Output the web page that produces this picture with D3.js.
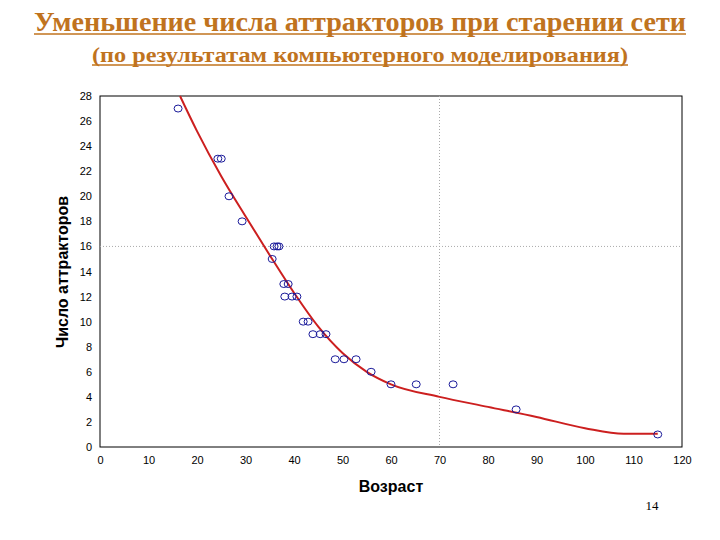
<!DOCTYPE html><html><head><meta charset="utf-8"><script src="https://cdn.jsdelivr.net/npm/d3@7"></script>
<style>body{margin:0;background:#fff}</style></head><body><script>
const xData=[16.1,24.3,25,26.6,29.3,35.9,36.5,36.9,35.5,37.9,38.8,38.1,39.6,40.6,41.9,42.9,43.9,45.4,46.6,48.5,50.3,52.8,55.9,60,65.2,72.8,85.8,115];
const yData=[27,23,23,20,18,16,16,16,15,13,13,12,12,12,10,10,9,9,9,7,7,7,6,5,5,5,3,1];
const fitX=[16.5,20,25,30,35,40,45,50,55,60,70,80,90,100,108,115];
const fitY=[28,25.2,21.6,18.4,15.3,12.3,9.6,7.5,6.0,5.0,4.0,3.2,2.4,1.5,1.05,1.05];
const xTicks=d3.range(0,121,10), yTicks=d3.range(0,29,2);
const svg=d3.select("body").append("svg").attr("width",720).attr("height",540);
const x=d3.scaleLinear().domain([0,120]).range([100,682]);
const y=d3.scaleLinear().domain([0,28]).range([447,96]);
const col="#c0731e";
function title(t,yy,fs,len){
 svg.append("text").attr("x",360).attr("y",yy).attr("text-anchor","middle").attr("font-family","Liberation Serif").attr("font-weight","bold").attr("font-size",fs).attr("fill",col).attr("textLength",len).attr("lengthAdjust","spacingAndGlyphs").text(t);
 svg.append("line").attr("x1",360-len/2).attr("x2",360+len/2).attr("y1",yy+3).attr("y2",yy+3).attr("stroke",col).attr("stroke-width",1.5);
}
title("Уменьшение числа аттракторов при старении сети",31,27,652);
title("(по результатам компьютерного моделирования)",62,21,536);
svg.append("rect").attr("x",100).attr("y",96).attr("width",582).attr("height",351).attr("fill","none").attr("stroke","#000");
svg.append("line").attr("x1",x(70)).attr("x2",x(70)).attr("y1",96).attr("y2",447).attr("stroke","#aaa").attr("stroke-dasharray","1,2");
svg.append("line").attr("x1",100).attr("x2",682).attr("y1",y(16)).attr("y2",y(16)).attr("stroke","#aaa").attr("stroke-dasharray","1,2");
const xa=svg.append("g").attr("transform","translate(0,447)").call(d3.axisBottom(x).tickValues(xTicks).tickSize(0).tickPadding(9));
const ya=svg.append("g").attr("transform","translate(100,0)").call(d3.axisLeft(y).tickValues(yTicks).tickSize(0).tickPadding(8));
[xa,ya].forEach(a=>{a.select(".domain").remove();a.selectAll("text").attr("font-family","Liberation Sans").attr("font-size",11).attr("fill","#000");});
svg.append("text").attr("x",391).attr("y",492).attr("text-anchor","middle").attr("font-family","Liberation Sans").attr("font-weight","bold").attr("font-size",16).text("Возраст");
svg.append("text").attr("transform","translate(68,272) rotate(-90)").attr("text-anchor","middle").attr("font-family","Liberation Sans").attr("font-weight","bold").attr("font-size",16).text("Число аттракторов");
svg.append("path").attr("d",d3.line().x((d,i)=>x(fitX[i])).y((d,i)=>y(fitY[i])).curve(d3.curveMonotoneX)(fitX)).attr("fill","none").attr("stroke","#cc1f1f").attr("stroke-width",2);
svg.selectAll("ellipse").data(xData).enter().append("ellipse").attr("cx",(d)=>x(d)).attr("cy",(d,i)=>y(yData[i])).attr("rx",4).attr("ry",3.5).attr("fill","none").attr("stroke","#1a1a9a").attr("stroke-width",1);
svg.append("text").attr("x",652).attr("y",510).attr("text-anchor","middle").attr("font-family","Liberation Serif").attr("font-size",13).text("14");
</script></body></html>
